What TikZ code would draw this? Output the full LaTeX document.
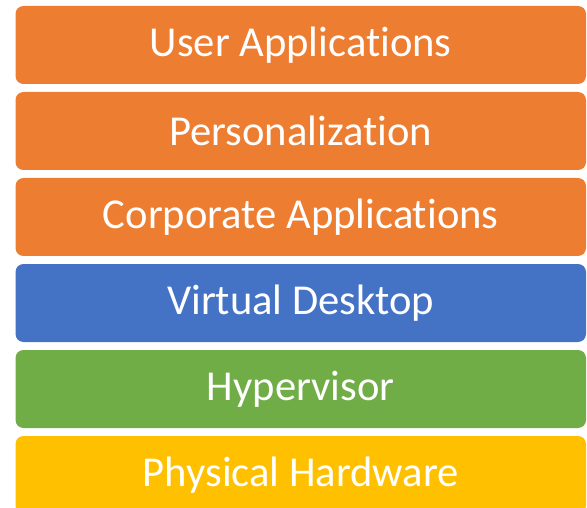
\documentclass[tikz,border=0pt]{standalone}
\usepackage{fontspec}
\setmainfont[Ligatures=NoCommon]{Carlito}
\definecolor{corange}{HTML}{ED7D31}
\definecolor{cblue}{HTML}{4472C4}
\definecolor{cgreen}{HTML}{70AD47}
\definecolor{cyellow}{HTML}{FFC000}
\tikzset{
  layer/.style={rectangle, rounded corners=8pt, minimum width=570.5pt, minimum height=78pt,
    inner sep=0pt, text=white, font=\fontsize{42.6}{48}\selectfont,
    execute at begin node={\lower2pt\hbox\bgroup},
    execute at end node={\egroup}},
}
\begin{document}
\begin{tikzpicture}[x=1pt,y=-1pt]
\useasboundingbox (0,0) rectangle (587,508);
\clip (0,0) rectangle (587,508);
\node[layer, fill=corange] (ua) at (300.75,45) {User Applications};
\node[layer, fill=corange] (pe) at (300.75,131) {Personalization};
\node[layer, fill=corange] (ca) at (300.75,217) {Corporate Applications};
\node[layer, fill=cblue] (vd) at (300.75,303) {Virtual Desktop};
\node[layer, fill=cgreen] (hv) at (300.75,389) {Hypervisor};
\node[layer, fill=cyellow] (ph) at (300.75,475) {Physical Hardware};
\end{tikzpicture}
\end{document}
